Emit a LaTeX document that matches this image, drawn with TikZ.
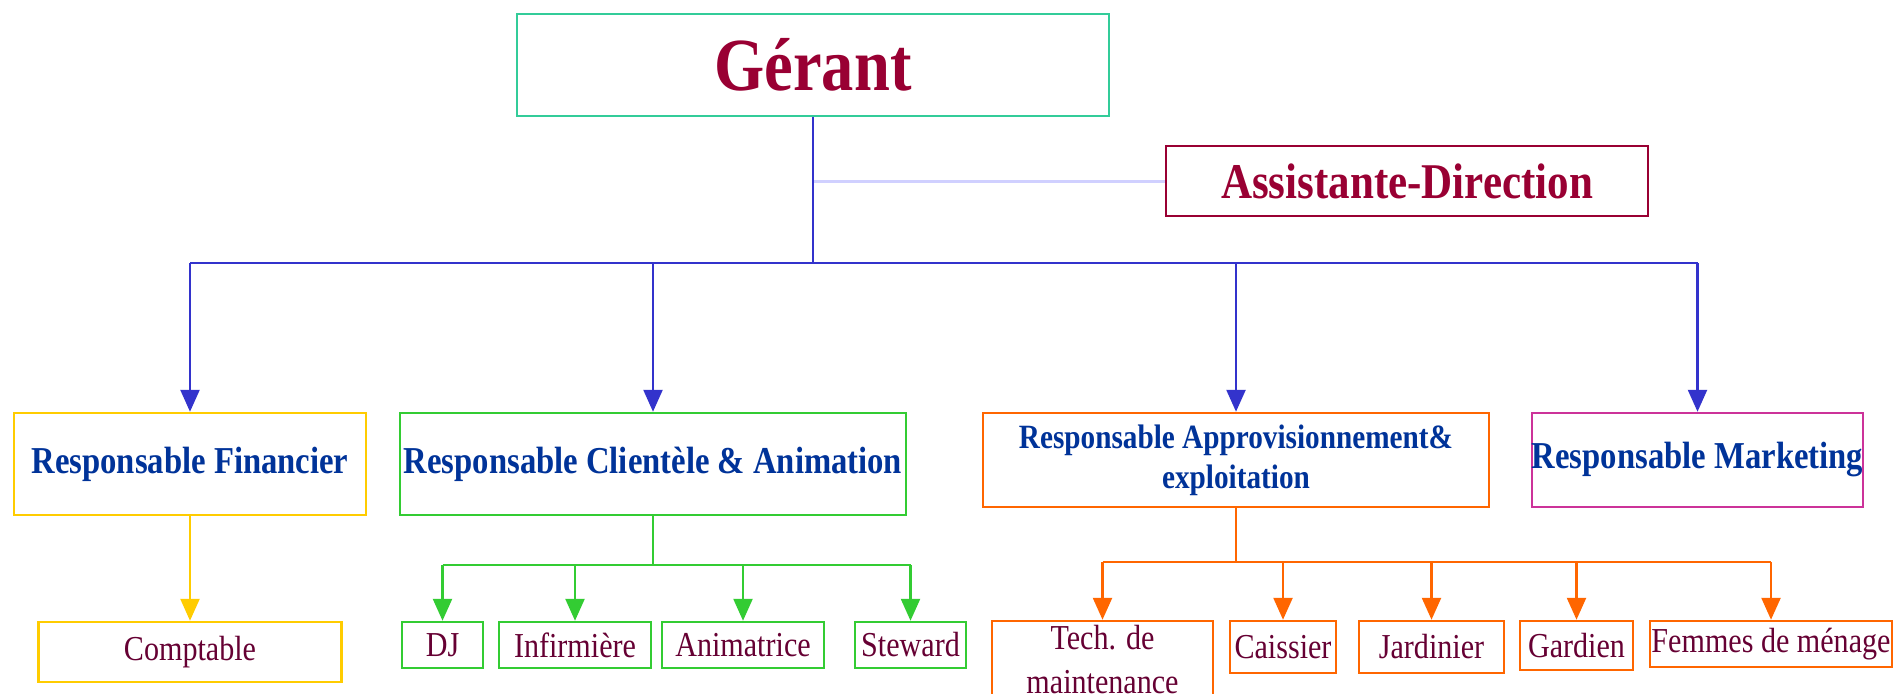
\documentclass[tikz,border=0pt]{standalone}
\usepackage{fontspec}
\setmainfont{Liberation Serif}[FakeStretch=0.86]
\usetikzlibrary{arrows.meta}
\definecolor{mint}{HTML}{33CC99}
\definecolor{maroonA}{HTML}{990033}
\definecolor{maroonB}{HTML}{660033}
\definecolor{navyT}{HTML}{003399}
\definecolor{blueL}{HTML}{3333CC}
\definecolor{lav}{HTML}{D0D0FF}
\definecolor{yel}{HTML}{FFCC00}
\definecolor{grn}{HTML}{33CC33}
\definecolor{org}{HTML}{FF6600}
\definecolor{pnk}{HTML}{CC3399}
\begin{document}
\begin{tikzpicture}[x=1pt,y=-1pt,
  box/.style={draw, line width=2.5pt, inner sep=0pt, fill=white, align=center},
  lvlA/.style={text=navyT, font=\fontsize{38}{44}\selectfont\bfseries},
  lvlB/.style={text=maroonB, font=\fontsize{35}{44}\selectfont},
  conn/.style={line width=2.5pt},
  tipped/.style={-{Triangle[width=19pt,length=22pt]}}]
\useasboundingbox[fill=white] (0,0) rectangle (1894,693);

% level 0/1
\node[box, draw=mint, minimum width=592pt, minimum height=102pt, text=maroonA,
  font=\fontsize{75}{80}\selectfont\bfseries] (ger) at (813,65) {\raisebox{-4pt}{Gérant}};
\node[box, draw=maroonA, minimum width=482pt, minimum height=70pt, text=maroonA,
  font=\fontsize{50}{56}\selectfont\bfseries] (asst) at (1407,181) {\raisebox{-4pt}{Assistante-Direction}};

% level 2
\node[box, lvlA, draw=yel, minimum width=352pt, minimum height=102pt] (fin) at (190,464) {Responsable Financier};
\node[box, lvlA, draw=grn, minimum width=506pt, minimum height=102pt] (cli) at (653,464) {Responsable Clientèle \& Animation};
\node[box, lvlA, draw=org, minimum width=506pt, minimum height=94pt,
  font=\fontsize{34}{40}\selectfont\bfseries] (app) at (1236,460) {Responsable Approvisionnement\&\\exploitation};
\node[box, lvlA, draw=pnk, minimum width=325pt, minimum height=94pt] (mkt) at (1697.5,460) {Responsable Marketing};

% level 3
\node[box, lvlB, draw=yel, minimum width=303pt, minimum height=60pt] (comp) at (190,652) {\raisebox{-3pt}{Comptable}};
\node[box, lvlB, draw=grn, minimum width=81pt, minimum height=46pt] (dj) at (442.5,645) {DJ};
\node[box, lvlB, draw=grn, minimum width=152pt, minimum height=46pt] (inf) at (575,645) {Infirmière};
\node[box, lvlB, draw=grn, minimum width=162pt, minimum height=46pt] (ani) at (743,645) {Animatrice};
\node[box, lvlB, draw=grn, minimum width=111pt, minimum height=46pt] (stw) at (910.5,645) {Steward};
\node[box, lvlB, draw=org, minimum width=221pt, minimum height=78pt] (tech) at (1102.5,660) {Tech. de\\maintenance};
\node[box, lvlB, draw=org, minimum width=106pt, minimum height=52pt] (cai) at (1283,647) {Caissier};
\node[box, lvlB, draw=org, minimum width=145pt, minimum height=52pt] (jar) at (1431.5,647) {Jardinier};
\node[box, lvlB, draw=org, minimum width=113pt, minimum height=49pt] (gar) at (1576.5,645.5) {Gardien};
\node[box, lvlB, draw=org, minimum width=242pt, minimum height=46pt] (fem) at (1771,644) {Femmes de ménage};

% blue connectors
\coordinate (bj) at (813,263);
\coordinate (aj) at (813,181);
\draw[line width=3pt, lav] (aj) -- (asst.west);
\draw[conn, blueL] (ger.south) -- (bj);
\draw[conn, blueL] (fin.north |- bj) -- (mkt.north |- bj);
\foreach \n in {fin,cli,app,mkt}
  \draw[conn, blueL, tipped] (\n.north |- bj) -- (\n.north);

% yellow
\draw[conn, yel, tipped] (fin.south) -- (comp.north);

% green
\coordinate (gj) at (653,565);
\draw[conn, grn] (cli.south) -- (gj);
\draw[conn, grn] (dj.north |- gj) -- (stw.north |- gj);
\foreach \n in {dj,inf,ani,stw}
  \draw[conn, grn, tipped] (\n.north |- gj) -- (\n.north);

% orange
\coordinate (oj) at (1236,562);
\draw[conn, org] (app.south) -- (oj);
\draw[conn, org] (tech.north |- oj) -- (fem.north |- oj);
\foreach \n in {tech,cai,jar,gar,fem}
  \draw[conn, org, tipped] (\n.north |- oj) -- (\n.north);
\end{tikzpicture}
\end{document}
